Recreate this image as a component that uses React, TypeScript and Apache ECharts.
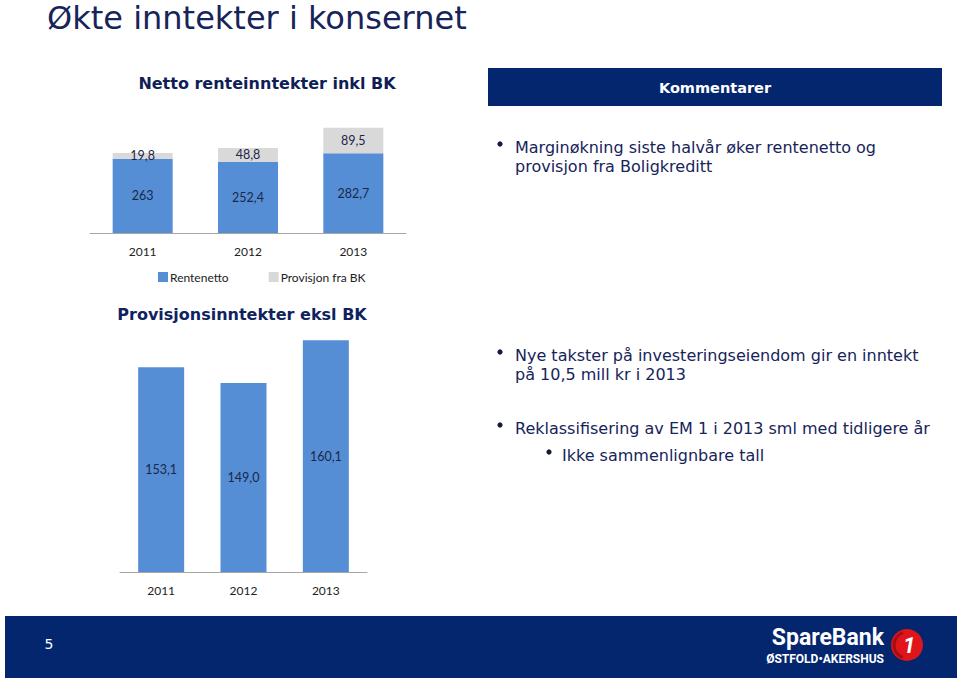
import React, { useEffect, useRef } from "react";
import * as echarts from "echarts";

const categories = ["2011", "2012", "2013"];
const rentenetto = [263, 252.4, 282.7];
const provisjonBK = [19.8, 48.8, 89.5];
const provisjonEksl = [153.1, 149.0, 160.1];

const titleText = "Økte inntekter i konsernet";
const chart1Title = "Netto renteinntekter inkl BK";
const chart2Title = "Provisjonsinntekter eksl BK";
const commentHeader = "Kommentarer";
const bullets = [
  { lines: ["Marginøkning siste halvår øker rentenetto og", "provisjon fra Boligkreditt"], y: 147, level: 0 },
  { lines: ["Nye takster på investeringseiendom gir en inntekt", "på 10,5 mill kr i 2013"], y: 355, level: 0 },
  { lines: ["Reklassifisering av EM 1 i 2013 sml med tidligere år"], y: 428, level: 0 },
  { lines: ["Ikke sammenlignbare tall"], y: 455, level: 1 },
];

const NAVY = "#04266f";
const TEXT = "#17245a";
const BLUE = "#558ed5";
const GRAY = "#d9d9d9";
const LABEL = "#1c2748";
const CHART_FONT = "Lato, 'Open Sans', sans-serif";
const SLIDE_FONT = "'DejaVu Sans', Verdana, sans-serif";

const fmt = (v: number) => String(v).replace(".", ",");
const fmt1 = (v: number) => v.toFixed(1).replace(".", ",");

export default function App() {
  const ref = useRef<HTMLDivElement>(null);
  useEffect(() => {
    document.body.style.margin = "0";
    if (!ref.current) return;
    const chart = echarts.init(ref.current, null, { renderer: "svg" });

    const bulletGraphics: any[] = [];
    bullets.forEach((b) => {
      const bx = b.level === 0 ? 500 : 549;
      const tx = b.level === 0 ? 515 : 562;
      bulletGraphics.push({
        type: "circle",
        shape: { cx: bx, cy: b.y - 3, r: 2.6 },
        style: { fill: "#111a3a" },
      });
      b.lines.forEach((ln, i) => {
        bulletGraphics.push({
          type: "text",
          x: tx,
          y: b.y + i * 19,
          style: { text: ln, fill: TEXT, font: `16px ${SLIDE_FONT}`, textAlign: "left", textVerticalAlign: "middle" },
        });
      });
    });

    const option: any = {
      animation: false,
      backgroundColor: "#ffffff",
      grid: [
        { left: 90, right: 554, top: 120, bottom: 448, containLabel: false },
        { left: 120, right: 593, top: 302, bottom: 109, containLabel: false },
      ],
      xAxis: [
        {
          gridIndex: 0,
          type: "category",
          data: categories,
          axisLine: { show: true, lineStyle: { color: "#a6a6a6", width: 1 } },
          axisTick: { show: false },
          axisLabel: { color: "#222", fontFamily: CHART_FONT, fontSize: 12, margin: 12 },
        },
        {
          gridIndex: 1,
          type: "category",
          data: categories,
          axisLine: { show: true, lineStyle: { color: "#a6a6a6", width: 1 } },
          axisTick: { show: false },
          axisLabel: { color: "#222", fontFamily: CHART_FONT, fontSize: 12, margin: 12 },
        },
      ],
      yAxis: [
        { gridIndex: 0, type: "value", min: 0, max: 400, show: false, splitLine: { show: false } },
        { gridIndex: 1, type: "value", min: 100, max: 170, show: false, splitLine: { show: false } },
      ],
      legend: {
        data: ["Rentenetto", "Provisjon fra BK"],
        left: 153,
        top: 266,
        itemWidth: 10,
        itemHeight: 10,
        itemGap: 40,
        icon: "rect",
        textStyle: { color: "#222", fontFamily: CHART_FONT, fontSize: 12, padding: [0, 0, 0, -3] },
      },
      series: [
        {
          name: "Rentenetto",
          type: "bar",
          stack: "a",
          xAxisIndex: 0,
          yAxisIndex: 0,
          data: rentenetto,
          barWidth: 60,
          itemStyle: { color: BLUE },
          label: {
            show: true,
            position: "inside",
            color: LABEL,
            fontFamily: CHART_FONT,
            fontSize: 12.5,
            formatter: (p: any) => fmt(p.value),
          },
        },
        {
          name: "Provisjon fra BK",
          type: "bar",
          stack: "a",
          xAxisIndex: 0,
          yAxisIndex: 0,
          data: provisjonBK,
          barWidth: 60,
          itemStyle: { color: GRAY },
          label: {
            show: true,
            position: "inside",
            color: LABEL,
            fontFamily: CHART_FONT,
            fontSize: 12.5,
            formatter: (p: any) => fmt(p.value),
          },
        },
        {
          name: "Provisjonsinntekter",
          type: "bar",
          xAxisIndex: 1,
          yAxisIndex: 1,
          data: provisjonEksl,
          barWidth: 46,
          itemStyle: { color: BLUE },
          label: {
            show: true,
            position: "inside",
            color: LABEL,
            fontFamily: CHART_FONT,
            fontSize: 12.5,
            formatter: (p: any) => fmt1(p.value),
          },
        },
      ],
      graphic: [
        {
          type: "text",
          x: 47,
          y: 18,
          style: { text: titleText, fill: TEXT, font: `32px ${SLIDE_FONT}`, textAlign: "left", textVerticalAlign: "middle" },
        },
        {
          type: "text",
          x: 267,
          y: 83,
          style: { text: chart1Title, fill: "#0f1f55", font: `bold 16px ${SLIDE_FONT}`, textAlign: "center", textVerticalAlign: "middle" },
        },
        {
          type: "text",
          x: 242,
          y: 314,
          style: { text: chart2Title, fill: "#0f2260", font: `bold 16px ${SLIDE_FONT}`, textAlign: "center", textVerticalAlign: "middle" },
        },
        {
          type: "rect",
          shape: { x: 488, y: 68, width: 454, height: 38 },
          style: { fill: NAVY },
        },
        {
          type: "text",
          x: 715,
          y: 88,
          style: { text: commentHeader, fill: "#ffffff", font: `bold 14.5px ${SLIDE_FONT}`, textAlign: "center", textVerticalAlign: "middle" },
        },
        ...bulletGraphics,
        {
          type: "rect",
          shape: { x: 5, y: 616, width: 952, height: 62 },
          style: { fill: NAVY },
        },
        {
          type: "text",
          x: 49,
          y: 644,
          style: { text: "5", fill: "#ffffff", font: `14px ${SLIDE_FONT}`, textAlign: "center", textVerticalAlign: "middle" },
        },
        {
          type: "text",
          x: 884,
          y: 637,
          style: { text: "SpareBank", fill: "#ffffff", font: `bold 23px Roboto, sans-serif`, textAlign: "right", textVerticalAlign: "middle" },
        },
        {
          type: "text",
          x: 884,
          y: 659,
          style: { text: "ØSTFOLD•AKERSHUS", fill: "#ffffff", font: `bold 12px Roboto, sans-serif`, textAlign: "right", textVerticalAlign: "middle" },
        },
        {
          type: "circle",
          shape: { cx: 907, cy: 645, r: 16 },
          style: { fill: "#e0151b" },
        },
        {
          type: "arc",
          shape: { cx: 907, cy: 645, r: 13, startAngle: 1.9, endAngle: 4.4 },
          style: { stroke: "#a60d12", lineWidth: 3, fill: "none" },
        },
        {
          type: "text",
          x: 909,
          y: 645,
          style: { text: "1", fill: "#ffffff", font: `bold italic 22px Roboto, sans-serif`, textAlign: "center", textVerticalAlign: "middle" },
        },
      ],
    };
    chart.setOption(option);
    return () => chart.dispose();
  }, []);
  return <div ref={ref} style={{ width: 960, height: 681 }} />;
}
